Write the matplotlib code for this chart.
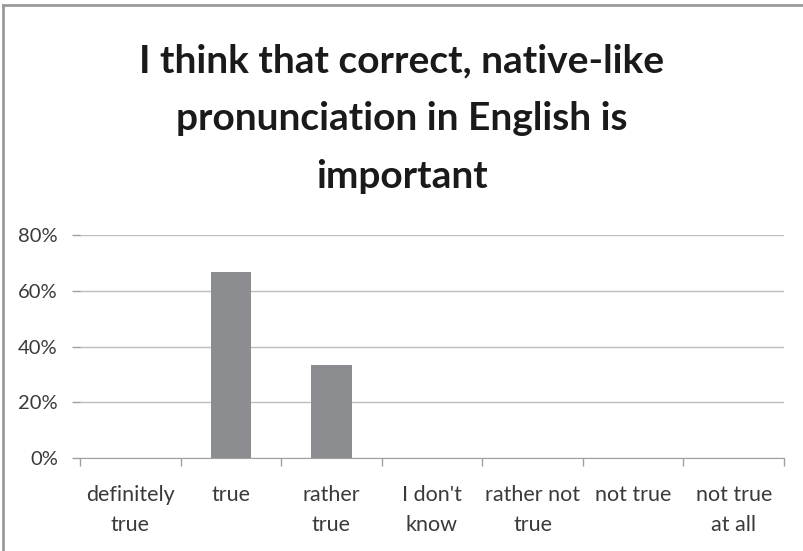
import matplotlib.pyplot as plt
from matplotlib.lines import Line2D

categories = ['definitely\ntrue', 'true', 'rather\ntrue', "I don't\nknow",
              'rather not\ntrue', 'not true', 'not true\nat all']
shares = [0, 66.67, 33.33, 0, 0, 0, 0]
y_ticks = [0, 20, 40, 60, 80]
title_lines = ['I think that correct, native-like',
               'pronunciation in English is',
               'important']

plt.rcParams['font.family'] = ['Lato', 'DejaVu Sans']

W, H = 804, 551
fig = plt.figure(figsize=(W / 100, H / 100), dpi=100)
ax = fig.add_axes([80 / W, 1 - 458 / H, 704 / W, 223 / H])

x = range(len(categories))
ax.bar(x, shares, width=0.4, color='#8c8d91', zorder=3)

ax.set_xlim(-0.5, len(categories) - 0.5)
ax.set_ylim(0, 80)
ax.set_yticks(y_ticks)
ax.set_yticklabels([f'{v}%' for v in y_ticks], fontsize=14.5, color='#3a3a3a')
ax.yaxis.grid(True, color='#bdbdbd', lw=1, zorder=0)

# category labels sit under the slots, ticks go on the slot edges
ax.set_xticks([i - 0.5 for i in range(len(categories) + 1)])
ax.set_xticklabels([])
ax.tick_params(axis='x', length=6, color='#a0a0a0', width=1)
ax.tick_params(axis='y', length=6, color='#a0a0a0', width=1, pad=10)
for i, lab in enumerate(categories):
    ax.text(i, -27 / 223, lab, ha='center', va='top', fontsize=15.5,
            color='#3a3a3a', linespacing=1.6, transform=ax.get_xaxis_transform())

for side in ['top', 'right', 'left']:
    ax.spines[side].set_visible(False)
ax.spines['bottom'].set_color('#a0a0a0')

# title, one baseline per line
for k, line in enumerate(title_lines):
    fig.text(0.5, 1 - (72 + 58 * k) / H, line, ha='center', va='baseline',
             fontsize=28, fontweight='bold', color='#1a1a1a')

# chart frame (only left and top edges fall inside the image)
fig.add_artist(Line2D([3.5 / W, 3.5 / W], [0, 1 - 4.5 / H], color='#9a9a9a', lw=2))
fig.add_artist(Line2D([3.5 / W, 1], [1 - 4.5 / H, 1 - 4.5 / H], color='#9a9a9a', lw=2))

fig.savefig('out.png', dpi=100)
